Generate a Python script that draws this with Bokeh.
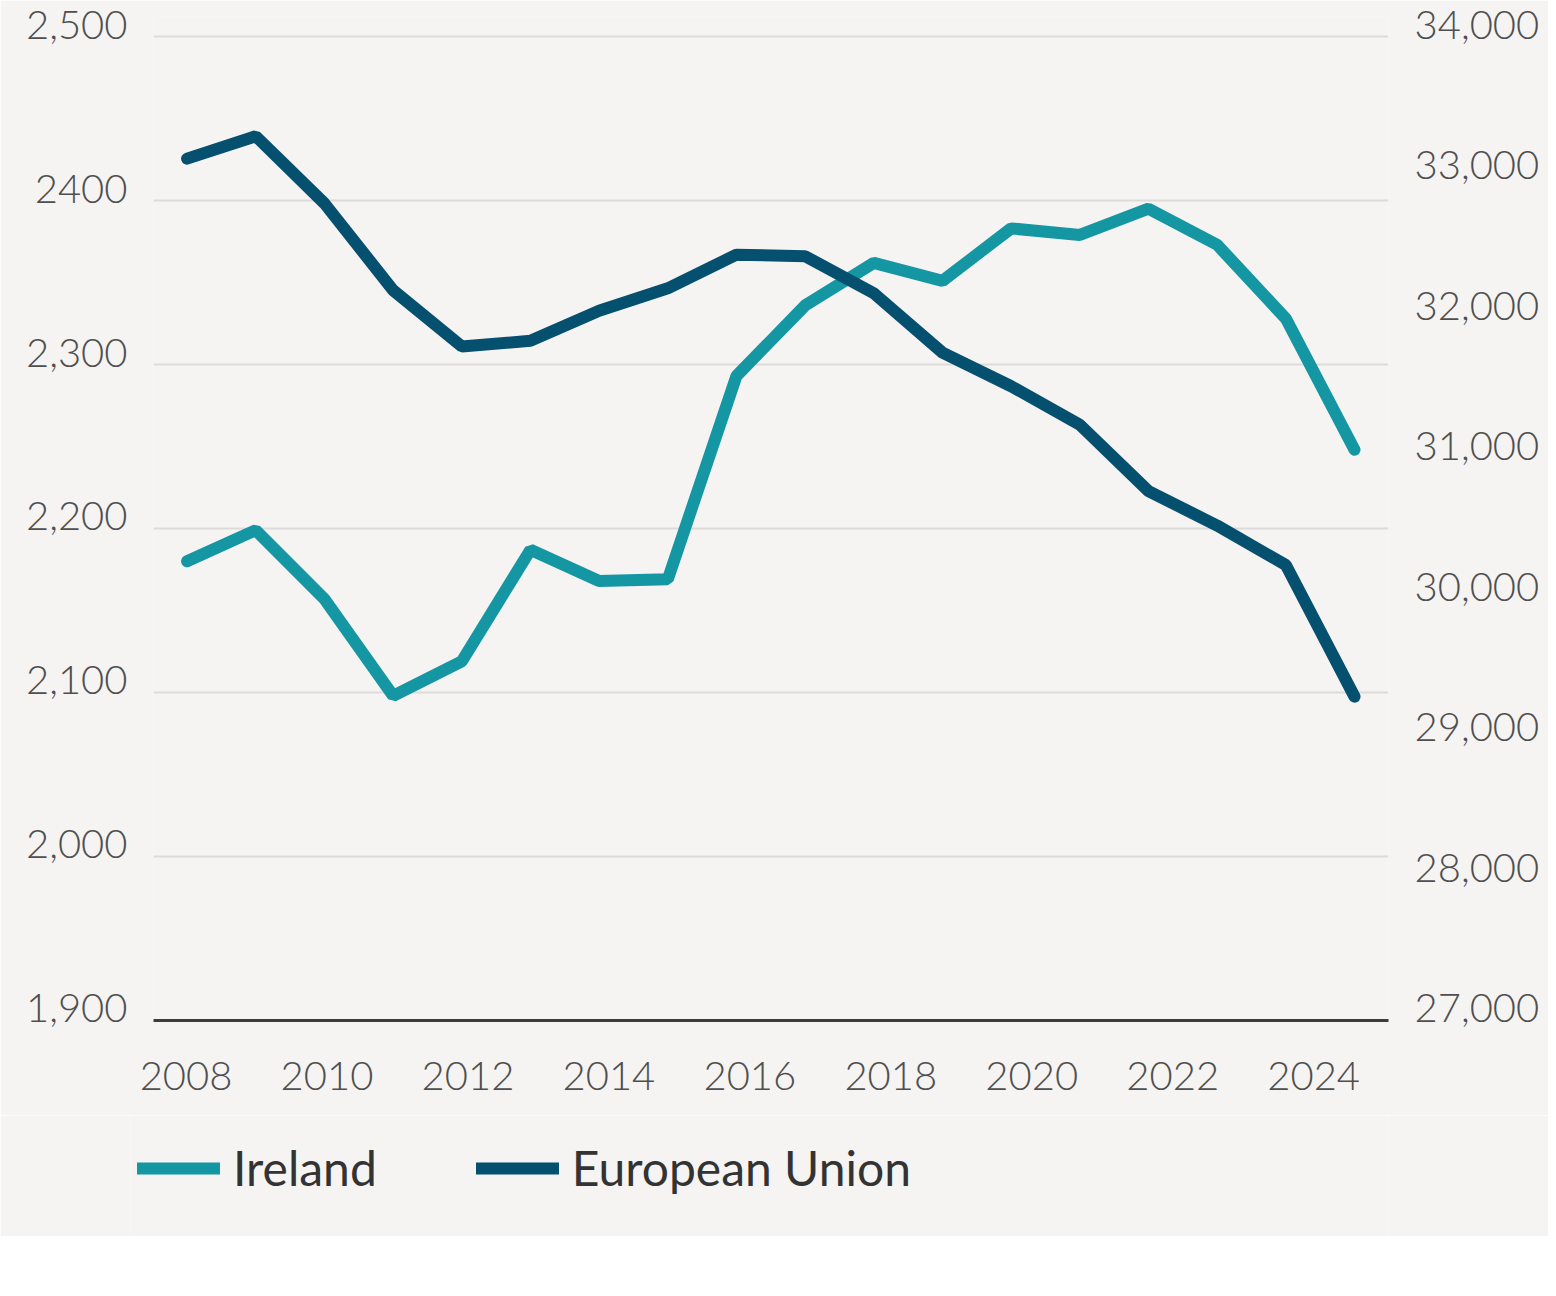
from bokeh.plotting import figure
from bokeh.layouts import column
from bokeh.models import (Range1d, LinearAxis, FixedTicker, NumeralTickFormatter,
                          Grid, Legend, LegendItem)
from bokeh.embed import file_html
from bokeh.resources import INLINE

# ---- data ----
point_index = [0, 1, 2, 3, 4, 5, 6, 7, 8, 9, 10, 11, 12, 13, 14, 15, 16, 17]
ireland = [2180, 2199, 2157, 2098, 2119, 2187, 2168, 2169, 2293, 2336,
           2362, 2351, 2383, 2379, 2395, 2373, 2328, 2248]
european_union = [33131, 33291, 32813, 32195, 31795, 31835, 32049, 32209, 32448, 32437,
                  32173, 31751, 31512, 31238, 30766, 30521, 30240, 29304]
year_ticks = [2008, 2010, 2012, 2014, 2016, 2018, 2020, 2022, 2024]
left_ticks = [1900, 2000, 2100, 2200, 2300, 2400, 2500]
right_ticks = [27000, 28000, 29000, 30000, 31000, 32000, 33000, 34000]
series_names = ["Ireland", "European Union"]

BG = "#f5f4f2"
C_IE = "#1496a3"
C_EU = "#05506f"
FONT = "Lato Light, Lato"
LEG_FONT = "Lato"
TICK_COLOR = "#4f4f4f"
W = 1548

p = figure(width=W, height=1115,
           x_axis_type=None, y_axis_type=None,
           x_range=Range1d(-0.489, 17.495), y_range=Range1d(1900, 2512.2),
           output_backend="svg", toolbar_location=None,
           min_border_left=153, min_border_right=160,
           min_border_top=16, min_border_bottom=95)
p.background_fill_color = BG
p.border_fill_color = BG
p.outline_line_color = None

p.extra_y_ranges = {
    "eu": Range1d(27000, 34142.3),
    "left_labels": Range1d(1892.68, 2504.88),
    "right_labels": Range1d(26914.6, 34056.9),
}
p.extra_x_ranges = {"years": Range1d(2007.538, 2025.062)}

grid = Grid(dimension=1, ticker=FixedTicker(ticks=left_ticks[1:]),
            grid_line_color="#dcdbd9", grid_line_width=2)
p.add_layout(grid)

line_style = dict(line_width=12, line_cap="round")
r_ie = p.line(point_index, ireland, line_color=C_IE, **line_style)
r_eu = p.line(point_index, european_union, line_color=C_EU, y_range_name="eu", **line_style)

xaxis = LinearAxis(x_range_name="years", ticker=FixedTicker(ticks=year_ticks),
                   axis_line_color="#3c3c3c", axis_line_width=3,
                   major_tick_line_color=None, minor_tick_line_color=None,
                   major_label_standoff=35,
                   major_label_text_font=FONT, major_label_text_font_size="40px",
                   major_label_text_color=TICK_COLOR)
p.add_layout(xaxis, "below")

yleft = LinearAxis(y_range_name="left_labels", ticker=FixedTicker(ticks=left_ticks),
                   formatter=NumeralTickFormatter(format="0,0"),
                   major_label_overrides={2400: "2400"},
                   axis_line_color=None, major_tick_line_color=None,
                   minor_tick_line_color=None, major_label_standoff=20,
                   major_label_text_font=FONT, major_label_text_font_size="40px",
                   major_label_text_color=TICK_COLOR)
p.add_layout(yleft, "left")

yright = LinearAxis(y_range_name="right_labels", ticker=FixedTicker(ticks=right_ticks),
                    formatter=NumeralTickFormatter(format="0,0"),
                    axis_line_color=None, major_tick_line_color=None,
                    minor_tick_line_color=None, major_label_standoff=20,
                    major_label_text_font=FONT, major_label_text_font_size="40px",
                    major_label_text_color=TICK_COLOR)
p.add_layout(yright, "right")

# ---- legend strip: same series and styles, ranges kept out of view so only the legend shows ----
leg = figure(width=W, height=121, x_axis_type=None, y_axis_type=None,
             x_range=Range1d(-100, -99), y_range=Range1d(0, 1),
             output_backend="svg", toolbar_location=None,
             min_border_left=130, min_border_right=160, min_border_top=0, min_border_bottom=0)
leg.frame_align = False
leg.extra_y_ranges = {"eu": Range1d(0, 1)}
leg.background_fill_color = BG
leg.border_fill_color = BG
leg.outline_line_color = None
l_ie = leg.line(point_index, ireland, line_color=C_IE, **line_style)
l_eu = leg.line(point_index, european_union, line_color=C_EU, y_range_name="eu", **line_style)

legend = Legend(items=[LegendItem(label=series_names[0], renderers=[l_ie]),
                       LegendItem(label=series_names[1], renderers=[l_eu])],
                orientation="horizontal", location=(7, 40),
                glyph_width=83, glyph_height=40, label_standoff=13, spacing=99,
                padding=0, margin=0,
                label_text_font=LEG_FONT, label_text_font_size="48px",
                label_text_color="#333333",
                background_fill_alpha=0, border_line_alpha=0)
leg.add_layout(legend)

layout = column(p, leg, spacing=0)
open("out.html", "w").write(file_html(layout, INLINE))
